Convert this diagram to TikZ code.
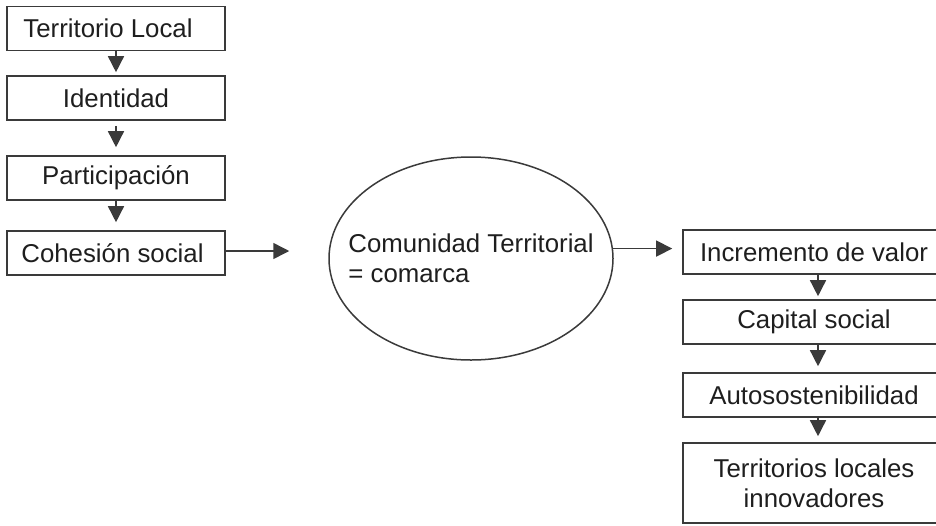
\documentclass[tikz,border=0pt]{standalone}
\usepackage{fontspec}
\setmainfont{Liberation Sans}
\usetikzlibrary{arrows.meta,shapes.geometric}
\definecolor{ink}{HTML}{1E1E1E}
\definecolor{rule}{HTML}{3A3A3A}
\begin{document}
\begin{tikzpicture}[x=1pt,y=-1pt,
  every node/.style={text=ink,font=\fontsize{25.8}{30}\selectfont},
  stage/.style={draw=rule,line width=1.6pt,inner sep=0pt,minimum height=44pt,align=center},
  leftbox/.style={stage,minimum width=218pt},
  rightbox/.style={stage,minimum width=262pt},
  flow/.style={draw=rule,line width=1.5pt,-{Triangle[length=16pt,width=16pt]}}]
\useasboundingbox (0,0) rectangle (936,525);

% left column
\node[leftbox] (tl) at (116,28.5) {Territorio Local\hspace*{16pt}};
\node[leftbox] (id) at (116,98) {Identidad};
\node[leftbox] (pa) at (116,178) {Participación};
\node[leftbox] (co) at (116,253) {Cohesión social\hspace*{7pt}};

% central community ellipse
\node[ellipse,draw=rule,line width=1.5pt,minimum width=284pt,minimum height=203pt,inner sep=0pt] (com) at (471,258.5) {};
\node[align=left,inner sep=0pt] (comtxt) at (com.center) {Comunidad Territorial\\= comarca};

% right column
\node[rightbox] (inc) at (814,252) {Incremento de valor};
\node[rightbox] (cap) at (814,322) {Capital social};
\node[rightbox] (aut) at (814,395) {Autosostenibilidad};
\node[rightbox,minimum height=80pt] (ter) at (814,483) {Territorios locales\\innovadores};

% vertical links
\draw[flow,shorten >=3pt] (tl.south) -- (id.north);
\draw[flow,shorten <=5pt,shorten >=8pt] (id.south) -- (pa.north);
\draw[flow,shorten >=8pt] (pa.south) -- (co.north);
\draw[flow,shorten >=3pt] ([xshift=4pt]inc.south) -- ([xshift=4pt]cap.north);
\draw[flow,shorten >=6pt] ([xshift=4pt]cap.south) -- ([xshift=4pt]aut.north);
\draw[flow,shorten >=6pt] ([xshift=4pt]aut.south) -- ([xshift=4pt]ter.north);

% horizontal links
\draw[flow,shorten >=39pt] ([yshift=2pt]co.east) -- ([yshift=2pt]co.east -| com.west);
\draw[flow,shorten >=10pt] (com.4) -- (com.4 -| inc.west);
\end{tikzpicture}
\end{document}
